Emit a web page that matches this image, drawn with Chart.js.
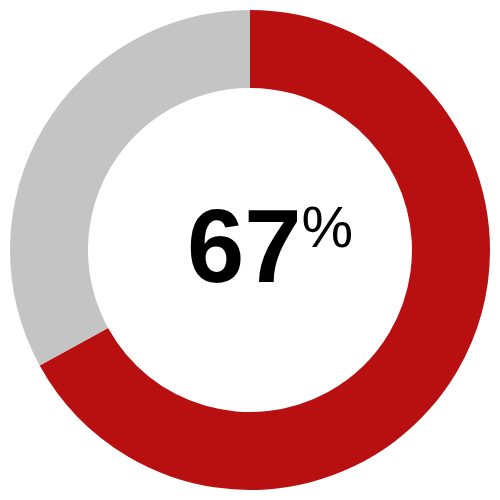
<!DOCTYPE html>
<html>
<head>
<meta charset="utf-8">
<script src="https://cdn.jsdelivr.net/npm/chart.js@4"></script>
<style>
  html, body { margin: 0; padding: 0; background: #fff; }
  #wrap { width: 500px; height: 500px; }
</style>
</head>
<body>
<div id="wrap"><canvas id="donut" width="500" height="500"></canvas></div>
<script>
const labels = ['Done', 'Remaining'];
const values = [67, 33];
const colors = ['#b81010', '#c4c4c4'];
const centerNumber = '67';
const centerUnit = '%';

// draws the big "67%" in the hole
const centerText = {
  id: 'centerText',
  afterDraw(chart) {
    let ctx = chart.ctx;
    let arc = chart.getDatasetMeta(0).data[0];
    let cx = arc.x, cy = arc.y;
    ctx.save();
    ctx.fillStyle = '#000';
    ctx.textBaseline = 'alphabetic';
    ctx.font = 'bold 103px "Liberation Sans", Arial, sans-serif';
    let w1 = ctx.measureText(centerNumber).width;
    ctx.font = '58px "Liberation Sans", Arial, sans-serif';
    let w2 = ctx.measureText(centerUnit).width;
    let left = cx + 20 - (w1 + w2) / 2;
    ctx.textAlign = 'left';
    ctx.font = 'bold 103px "Liberation Sans", Arial, sans-serif';
    ctx.fillText(centerNumber, left, cy + 32);
    ctx.font = '58px "Liberation Sans", Arial, sans-serif';
    ctx.fillText(centerUnit, left + w1, cy - 3);
    ctx.restore();
  }
};

new Chart(document.querySelector('#donut'), {
  type: 'doughnut',
  data: {
    labels: labels,
    datasets: [{
      data: values,
      backgroundColor: colors,
      borderWidth: 0
    }]
  },
  options: {
    responsive: false,
    animation: false,
    cutout: '67.5%',
    layout: { padding: 10 },
    plugins: {
      legend: { display: false },
      tooltip: { enabled: false }
    }
  },
  plugins: [centerText]
});
</script>
</body>
</html>
